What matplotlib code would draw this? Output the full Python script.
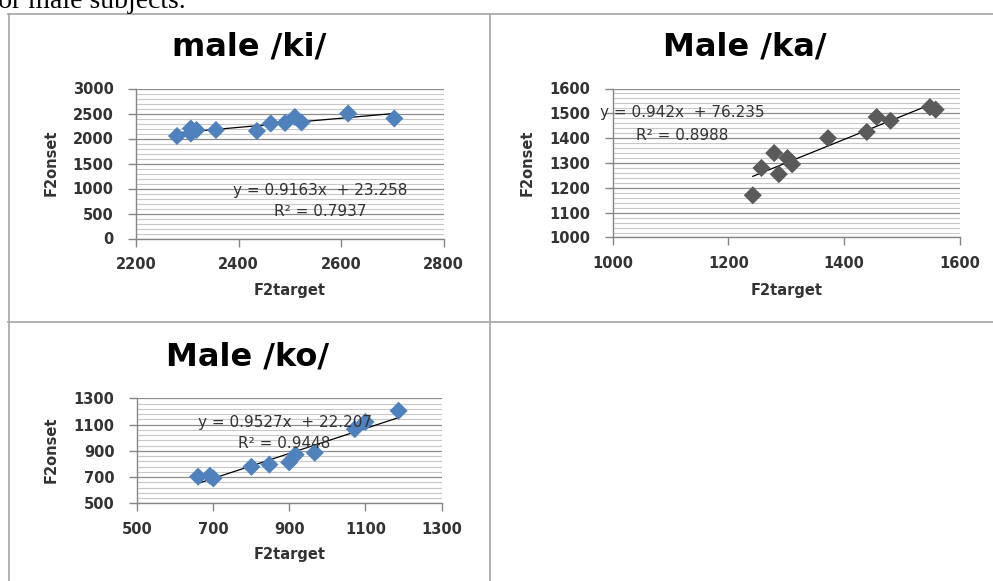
import matplotlib
matplotlib.use("Agg")
import matplotlib.pyplot as plt
from matplotlib.ticker import MultipleLocator

# /ki/ data
ki_x = [2280, 2307, 2307, 2318, 2356, 2436, 2463, 2491, 2510, 2523, 2614, 2704]
ki_y = [2050, 2200, 2100, 2170, 2170, 2150, 2300, 2310, 2430, 2320, 2500, 2400]
ki_fit = (0.9163, 23.258)
ki_r2 = 0.7937

# /ka/ data
ka_x = [1242, 1257, 1279, 1287, 1302, 1310, 1372, 1439, 1456, 1480, 1548, 1558]
ka_y = [1170, 1280, 1340, 1255, 1320, 1295, 1400, 1425, 1485, 1470, 1525, 1515]
ka_fit = (0.942, 76.235)
ka_r2 = 0.8988

# /ko/ data
ko_x = [661, 692, 701, 801, 848, 900, 917, 967, 1072, 1100, 1187]
ko_y = [703, 710, 690, 778, 795, 812, 870, 885, 1065, 1120, 1205]
ko_fit = (0.9527, 22.207)
ko_r2 = 0.9448

W, H = 993, 581
FONT = "DejaVu Sans"
TXT = "#333333"
AX = "#868686"


def fx(px):
    return px / W


def fy(py):
    return 1 - py / H


def panel(fig, box, xs, ys, fit, xlim, ylim, xstep, ystep, color, off=0):
    left, top, right, bottom = box
    ax = fig.add_axes([fx(left), fy(bottom), fx(right - left), (bottom - top) / H])
    ax.set_xlim(*xlim)
    ax.set_ylim(*ylim)
    ax.xaxis.set_major_locator(MultipleLocator(xstep, offset=off))
    ax.yaxis.set_major_locator(MultipleLocator(ystep, offset=off))
    ax.yaxis.set_minor_locator(MultipleLocator(ystep / 5, offset=off))
    ax.grid(which="major", axis="y", color="#8C8C8C", lw=0.9)
    ax.grid(which="minor", axis="y", color="#C8C8C8", lw=0.8)
    ax.set_axisbelow(True)
    for s in ["top", "right"]:
        ax.spines[s].set_visible(False)
    for s in ["left", "bottom"]:
        ax.spines[s].set_color(AX)
        ax.spines[s].set_linewidth(1.0)
    ax.tick_params(which="major", direction="out", length=5.5, color=AX, width=1.0,
                   labelsize=10.5, labelcolor=TXT)
    ax.tick_params(axis="y", pad=10.5)
    ax.tick_params(axis="x", pad=8)
    ax.tick_params(which="minor", length=0)
    for lab in ax.get_xticklabels() + ax.get_yticklabels():
        lab.set_fontfamily(FONT)
        lab.set_fontweight("bold")

    # trend line from the fitted equation
    a, b = fit
    x0, x1 = min(xs), max(xs)
    ax.plot([x0, x1], [a * x0 + b, a * x1 + b], color="black", lw=0.9, zorder=3)
    ax.scatter(xs, ys, marker="D", s=85, color=color, edgecolors="none", zorder=4)
    return ax


def labels(fig, title, tpos, ypos, xpos, eq, eqpos, r2, r2pos, ha="center"):
    fig.text(fx(tpos[0]), fy(tpos[1]), title, family=FONT, fontweight="bold",
             fontsize=23, ha="center", va="center", color="black")
    fig.text(fx(ypos[0]), fy(ypos[1]), "F2onset", family=FONT, fontweight="bold",
             fontsize=10.5, rotation=90, ha="center", va="center", color=TXT)
    fig.text(fx(xpos[0]), fy(xpos[1]), "F2target", family=FONT, fontweight="bold",
             fontsize=10.5, ha="center", va="center", color=TXT)
    fig.text(fx(eqpos[0]), fy(eqpos[1]), eq, family=FONT, fontsize=11,
             ha=ha, va="center", color=TXT)
    fig.text(fx(r2pos[0]), fy(r2pos[1]), "R² = %.4f" % r2, family=FONT, fontsize=11,
             ha=ha, va="center", color=TXT)


fig = plt.figure(figsize=(W / 100, H / 100), dpi=100)

# page text cut at the top
fig.text(fx(-11), fy(8), "for male subjects.", family="Liberation Serif",
         fontsize=20, ha="left", va="baseline", color="black")

# table borders
for (xa, ya, xb, yb) in [(8, 13.5, 993, 13.5), (8, 321.5, 993, 321.5),
                         (8.5, 13.5, 8.5, 581), (489.5, 13.5, 489.5, 581)]:
    fig.add_artist(plt.Line2D([fx(xa), fx(xb)], [fy(ya), fy(yb)], color="#A6A6A6", lw=1.2))

blue = "#4F81BD"
grey = "#5A5A5A"

# male /ki/
panel(fig, (136, 88.5, 443.5, 238.5), ki_x, ki_y, ki_fit,
      (2200, 2800), (0, 3000), 200, 500, blue)
labels(fig, "male /ki/", (249, 47), (51, 163), (290, 290),
       "y = %.4fx  + %.3f" % ki_fit, (320, 190), ki_r2, (320, 211))

# Male /ka/
panel(fig, (612.7, 88.5, 960, 237.5), ka_x, ka_y, ka_fit,
      (1000, 1600), (1000, 1600), 200, 100, grey)
labels(fig, "Male /ka/", (745, 47), (527, 163), (787, 290),
       "y = %.3fx  + %.3f" % ka_fit, (600, 113), ka_r2, (636, 135), ha="left")

# Male /ko/
panel(fig, (136.7, 398.3, 441.7, 503.3), ko_x, ko_y, ko_fit,
      (500, 1300), (500, 1300), 200, 200, blue, off=100)
labels(fig, "Male /ko/", (248, 357), (51, 450), (290, 555),
       "y = %.4fx  + %.3f" % ko_fit, (285, 423), ko_r2, (284, 443))

fig.savefig("out.png", dpi=100)
